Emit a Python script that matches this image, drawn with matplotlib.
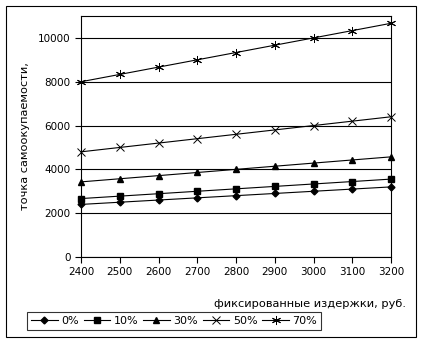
import matplotlib.pyplot as plt
from matplotlib.patches import Rectangle

# постоянные издержки, руб.
fixed_costs = [2400, 2500, 2600, 2700, 2800, 2900, 3000, 3100, 3200]

# точка самоокупаемости при разной доле переменных издержек
bep_0 = [2400, 2500, 2600, 2700, 2800, 2900, 3000, 3100, 3200]
bep_10 = [2667, 2778, 2889, 3000, 3111, 3222, 3333, 3444, 3556]
bep_30 = [3429, 3571, 3714, 3857, 4000, 4143, 4286, 4429, 4571]
bep_50 = [4800, 5000, 5200, 5400, 5600, 5800, 6000, 6200, 6400]
bep_70 = [8000, 8333, 8667, 9000, 9333, 9667, 10000, 10333, 10667]

series_labels = ["0%", "10%", "30%", "50%", "70%"]
y_ticks = [0, 2000, 4000, 6000, 8000, 10000]

plt.rcParams["font.family"] = "DejaVu Sans"

fig = plt.figure(figsize=(4.23, 3.43), dpi=100)
ax = fig.add_axes([81 / 423, 1 - 257 / 343, 310 / 423, 241 / 343])

styles = [
    dict(marker="D", markersize=3.5),
    dict(marker="s", markersize=5),
    dict(marker="^", markersize=5),
    dict(marker="x", markersize=5.5, markeredgewidth=0.7),
    dict(marker=(6, 2, 0), markersize=6.5, markeredgewidth=0.7),
]
all_series = [bep_0, bep_10, bep_30, bep_50, bep_70]
for values, label, st in zip(all_series, series_labels, styles):
    ax.plot(fixed_costs, values, color="black", linewidth=0.8,
            label=label, clip_on=False, **st)

ax.set_xlim(2400, 3200)
ax.set_ylim(0, 11000)
ax.set_xticks(fixed_costs)
ax.set_yticks(y_ticks)
ax.tick_params(labelsize=7.5, length=4, width=0.8, direction="out", colors="black")
ax.yaxis.grid(True, color="black", linewidth=0.8)
ax.set_axisbelow(True)
for sp in ax.spines.values():
    sp.set_linewidth(0.8)

fig.text(25 / 423, 1 - 136 / 343, "точка самоокупаемости,", rotation=90,
         ha="center", va="center", fontsize=8.2)
fig.text(406 / 423, 1 - 304 / 343, "фиксированные издержки, руб.",
         ha="right", va="center", fontsize=8.2)

leg = fig.legend(loc="center", bbox_to_anchor=(174 / 423, 1 - 321 / 343),
                 ncol=5, fontsize=8, frameon=True, fancybox=False,
                 handlelength=2.4, handletextpad=0.3, columnspacing=0.45,
                 borderpad=0.35, borderaxespad=0)
leg.get_frame().set_edgecolor("black")
leg.get_frame().set_linewidth(0.8)

# рамка вокруг всей диаграммы
fig.patches.append(Rectangle((6 / 423, 6 / 343), 410 / 423, 331 / 343,
                             transform=fig.transFigure, fill=False,
                             edgecolor="black", linewidth=0.8))

fig.savefig("out.png", dpi=100)
